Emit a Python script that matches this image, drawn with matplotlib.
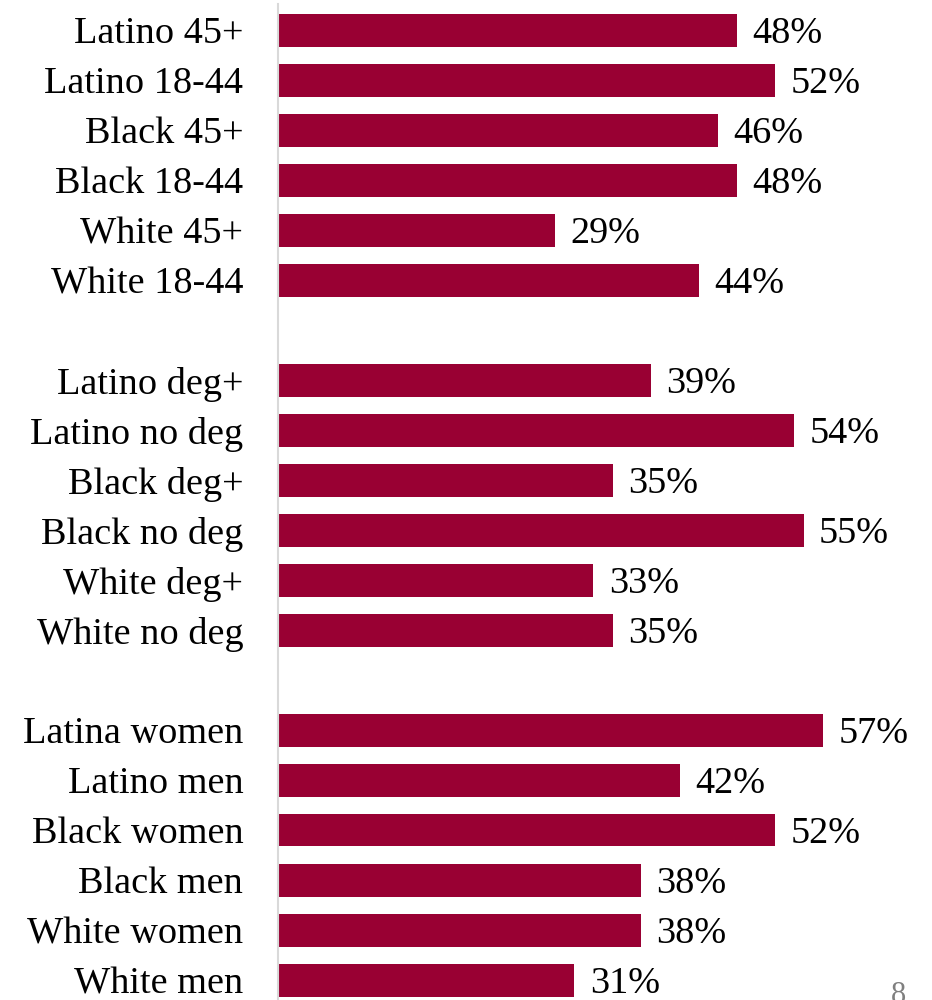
import matplotlib
matplotlib.use("Agg")
from matplotlib import pyplot as plt

# three groups, top to bottom, separated by an empty row
age_labels = ["Latino 45+", "Latino 18-44", "Black 45+", "Black 18-44", "White 45+", "White 18-44"]
age_values = [48, 52, 46, 48, 29, 44]

edu_labels = ["Latino deg+", "Latino no deg", "Black deg+", "Black no deg", "White deg+", "White no deg"]
edu_values = [39, 54, 35, 55, 33, 35]

gender_labels = ["Latina women", "Latino men", "Black women", "Black men", "White women", "White men"]
gender_values = [57, 42, 52, 38, 38, 31]

BAR_COLOR = "#990033"
FS = 27.5

labels, values, rows = [], [], []
row = 0
for grp_labels, grp_values in [(age_labels, age_values), (edu_labels, edu_values), (gender_labels, gender_values)]:
    for lab, val in zip(grp_labels, grp_values):
        labels.append(lab)
        values.append(val)
        rows.append(row)
        row += 1
    row += 1  # blank slot between groups

plt.rcParams["font.family"] = ["Liberation Serif", "DejaVu Serif"]

fig = plt.figure(figsize=(9.32, 10), dpi=100)
ax = fig.add_axes([278 / 932, 0, 654 / 932, 1])

ax.barh(rows, values, height=0.66, color=BAR_COLOR)
for r, v in zip(rows, values):
    ax.text(v + 1.6, r, f"{v}%", va="center_baseline", ha="left", fontsize=FS, color="black")

ax.set_xlim(0, 654 / 9.56)
ax.set_ylim(19.4, -0.6)
ax.set_yticks(rows)
ax.set_yticklabels(labels, fontsize=FS)
ax.tick_params(axis="y", length=0, pad=25)
ax.set_xticks([])

for side in ["top", "right", "bottom"]:
    ax.spines[side].set_visible(False)
ax.spines["left"].set_color("#d9d9d9")
ax.spines["left"].set_linewidth(1.5)
ax.spines["left"].set_bounds(19.4, -0.52)

# page number, cut off at the bottom edge in the source slide
fig.text(898 / 932, -0.01, "8", fontsize=22, color="#7f7f7f", ha="center", va="bottom")

fig.savefig("out.png", dpi=100)
